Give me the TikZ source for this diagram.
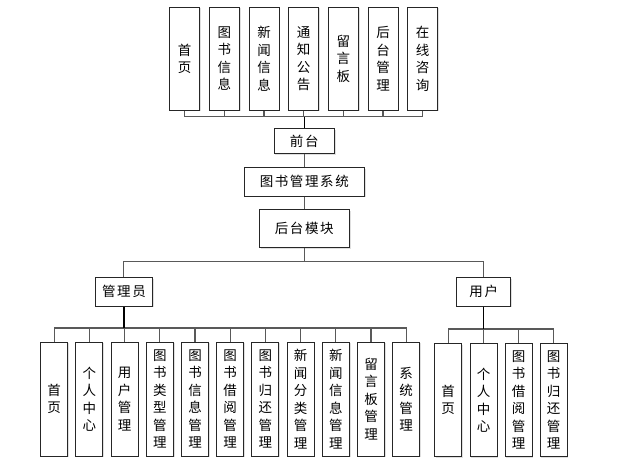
\documentclass[tikz,border=0pt]{standalone}
\usepackage{fontspec}
\setmainfont{Noto Sans CJK SC}
\newfontfamily\hfont[LetterSpace=12]{Noto Sans CJK SC}
\usetikzlibrary{shadows}
\tikzset{
  box/.style={draw=black!85, line width=0.9pt, fill=white, inner sep=0pt,
    drop shadow={shadow xshift=1.2pt, shadow yshift=-1.2pt, opacity=0.25}},
  vbox/.style={box, minimum width=27pt, align=center, font=\fontsize{13.5}{17.5}\selectfont},
  hbox/.style={box, font=\hfont\fontsize{13.5}{16}\selectfont},
  conn/.style={draw=black!65, line width=1.1pt},
  stem/.style={draw=black, line width=1.3pt}
}
\begin{document}
\begin{tikzpicture}[x=1pt,y=-1pt]
\useasboundingbox (0,0) rectangle (631,474);
% top row
\foreach \x/\t [count=\i] in {184.5/{首\\页}, 224.3/{图\\书\\信\\息}, 264/{新\\闻\\信\\息}, 303.7/{通\\知\\公\\告}, 343.4/{留\\言\\板}, 383/{后\\台\\管\\理}, 422.7/{在\\线\\咨\\询}}
  \node[vbox, minimum width=30pt, minimum height=103pt] (t\i) at (\x,58.7) {\t};
\node[hbox, minimum width=60.7pt, minimum height=24.6pt] (qt) at (304.3,141) {前台};
\node[hbox, minimum width=120.7pt, minimum height=28.7pt] (sys) at (304.3,181.7) {图书管理系统};
\node[hbox, minimum width=90pt, minimum height=38pt] (ht) at (304.3,228.3) {后台模块};
\node[hbox, minimum width=57.7pt, minimum height=28.7pt] (gly) at (123.9,291.7) {管理员};
\node[hbox, minimum width=54pt, minimum height=28.7pt] (yh) at (483.7,291.7) {用户};
% admin row
\foreach \t [count=\i] in {{首\\页}, {个\\人\\中\\心}, {用\\户\\管\\理}, {图\\书\\类\\型\\管\\理}, {图\\书\\信\\息\\管\\理}, {图\\书\\借\\阅\\管\\理}, {图\\书\\归\\还\\管\\理}, {新\\闻\\分\\类\\管\\理}, {新\\闻\\信\\息\\管\\理}, {留\\言\\板\\管\\理}, {系\\统\\管\\理}}
  \node[vbox, minimum height=114pt] (a\i) at ({54.2+35.2*(\i-1)},399) {\t};
% user row
\foreach \x/\t [count=\i] in {448.2/{首\\页}, 483.5/{个\\人\\中\\心}, 518.7/{图\\书\\借\\阅\\管\\理}, 553.7/{图\\书\\归\\还\\管\\理}}
  \node[vbox, minimum height=113.4pt] (u\i) at (\x,400) {\t};
% bus coordinates
\coordinate (b1) at (0,116.7);
\coordinate (b2) at (0,261.7);
\coordinate (b3) at (0,328);
\coordinate (b4) at (0,329);
% connectors
\foreach \i in {1,...,7}
  \draw[conn] (t\i.south) -- (t\i.south |- b1) -| (qt.north);
\draw[stem] (qt.north) -- (qt.north |- b1);
\draw[conn] (qt.south) -- (sys.north);
\draw[conn] (sys.south) -- (ht.north);
\draw[conn] (ht.south) -- (ht.south |- b2) -| (gly.north);
\draw[conn] (ht.south |- b2) -| (yh.north);
\foreach \i in {1,...,11}
  \draw[conn] (a\i.north) -- (a\i.north |- b3) -| (gly.south);
\draw[stem] (gly.south) -- (gly.south |- b3);
\foreach \i in {1,...,4}
  \draw[conn] (u\i.north) -- (u\i.north |- b4) -| (yh.south);
\draw[stem] (yh.south) -- (yh.south |- b4);
\end{tikzpicture}
\end{document}
